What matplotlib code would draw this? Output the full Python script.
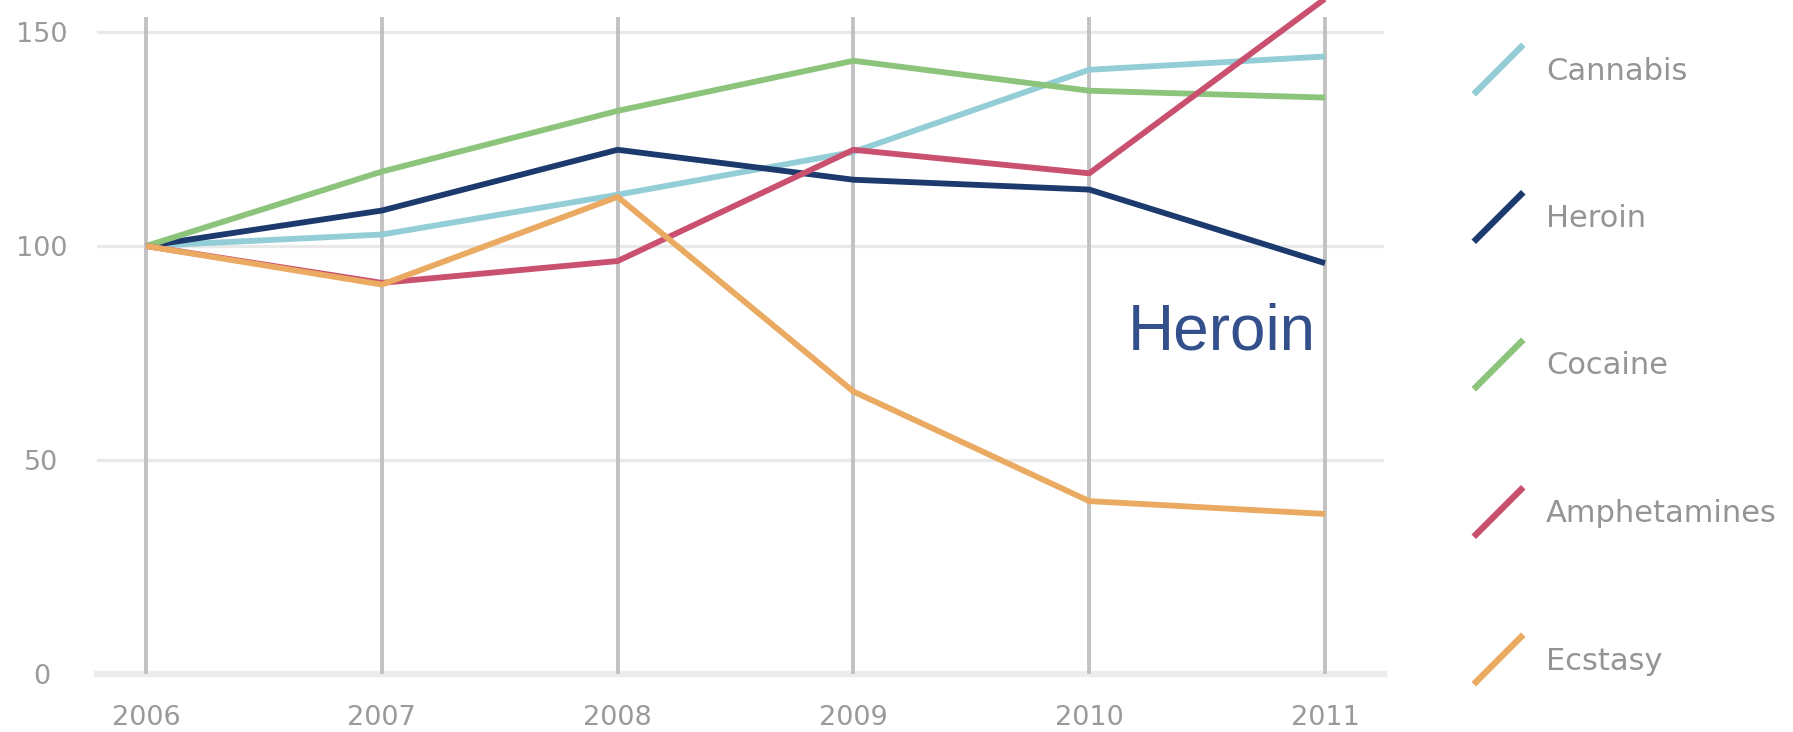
import numpy as np
import matplotlib
matplotlib.use("Agg")
import matplotlib.pyplot as plt
from matplotlib.lines import Line2D

years = [2006, 2007, 2008, 2009, 2010, 2011]
drugs = ["Cannabis", "Heroin", "Cocaine", "Amphetamines", "Ecstasy"]
cannabis = [100, 102.7, 112, 122, 141.2, 144.3]
heroin = [100, 108.3, 122.5, 115.5, 113.2, 96]
cocaine = [100, 117.4, 131.6, 143.3, 136.3, 134.7]
amphetamines = [100, 91.4, 96.5, 122.5, 117, 157.8]
ecstasy = [100, 91, 111.5, 66, 40.4, 37.4]
series = [cannabis, heroin, cocaine, amphetamines, ecstasy]
colors = ["#93cdd6", "#1d3a6e", "#8cc47c", "#c9506f", "#eaaa62"]
yticks = [0, 50, 100, 150]

W, H = 1793, 732
fig = plt.figure(figsize=(W / 100, H / 100), dpi=100)
ax = fig.add_axes([97 / W, (H - 674) / H, 1287 / W, 674 / H])
ax.set_xlim(2005.792, 2011.25)
ax.set_ylim(0, 157.5)
for s in ax.spines.values():
    s.set_visible(False)

# grid
for y in yticks[1:]:
    ax.axhline(y, color="#e9e9e9", lw=2.4, zorder=1)
ax.axhline(0, color="#ececec", lw=4.5, zorder=1, clip_on=False)
ax.vlines(years, 0, 153.5, color="#c2c2c2", lw=2.8, zorder=2)

for vals, c in zip(series, colors):
    ax.plot(years, vals, color=c, lw=4.2, zorder=3, solid_capstyle="butt")

ax.set_xticks(years)
ax.set_xticklabels([str(y) for y in years])
ax.set_yticks(yticks)
ax.set_yticklabels([str(y) for y in yticks], ha="center")
ax.tick_params(axis="both", length=0, labelsize=19.5, labelcolor="#9a9a9a")
ax.tick_params(axis="x", pad=22)
ax.tick_params(axis="y", pad=40)

# legend on the right
for i, (name, c) in enumerate(zip(drugs, colors)):
    yc = 71 + i * 147.5
    fig.add_artist(Line2D([1476 / W, 1521 / W],
                          [(H - yc - 21) / H, (H - yc + 24) / H],
                          color=c, lw=4.6, transform=fig.transFigure))
    fig.text(1546 / W, (H - yc) / H, name, fontsize=22, color="#949494",
             va="center", ha="left")

fig.text(1316 / W, (H - 349) / H, "Heroin", fontsize=46, color="#34508a",
         family="Liberation Sans", ha="right", va="baseline")

fig.savefig("out.png", dpi=100)
